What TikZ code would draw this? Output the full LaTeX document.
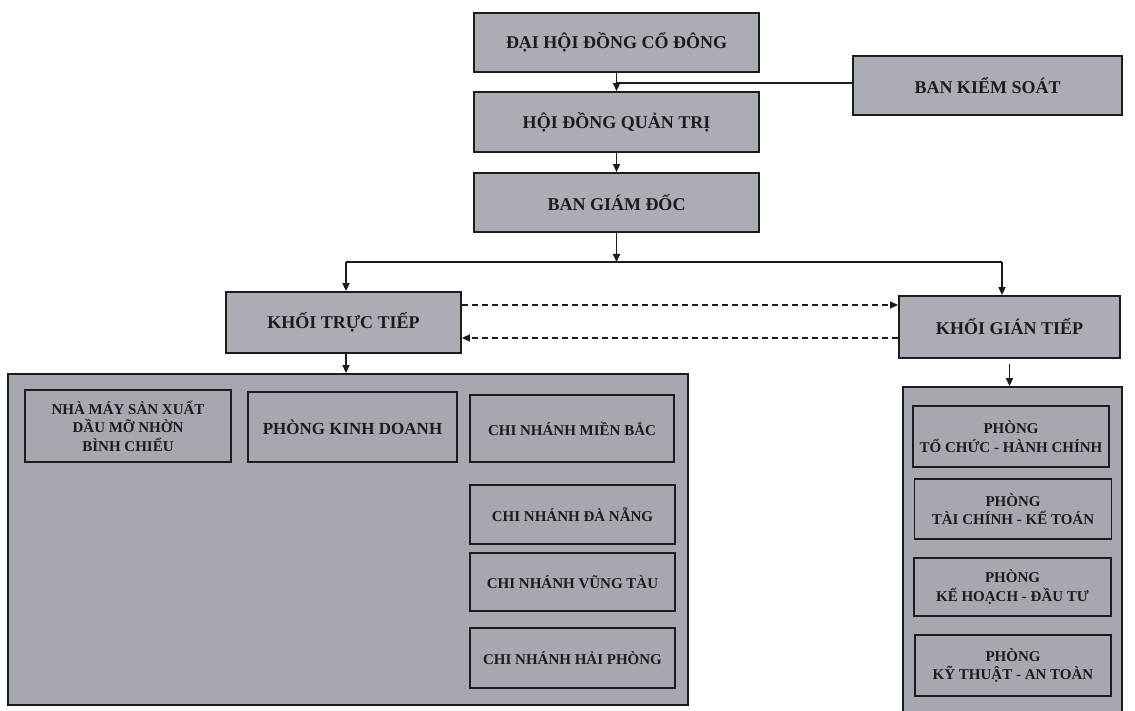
\documentclass[tikz,border=0pt]{standalone}
\usepackage{fontspec}
\setmainfont{Liberation Serif}
\usetikzlibrary{arrows.meta}
\definecolor{boxfill}{HTML}{ABADB5}
\definecolor{confill}{HTML}{A6A8B0}
\definecolor{ink}{HTML}{1C1C1E}
\tikzset{
  box/.style={draw=ink, line width=1.8pt, fill=boxfill, inner sep=0pt, align=center, text=ink},
  bigtxt/.style={font=\bfseries\fontsize{18}{21}\selectfont},
  subtxt/.style={font=\bfseries\fontsize{15}{18.5}\selectfont},
  pkdtxt/.style={font=\bfseries\fontsize{17}{20}\selectfont},
  cont/.style={draw=ink, line width=1.8pt, fill=confill, inner sep=0pt},
  conn/.style={draw=ink, line width=1.6pt},
  arr/.style={conn, -{Triangle[length=8pt,width=7pt]}},
  darr/.style={conn, dashed, dash pattern=on 6pt off 4pt, -{Triangle[length=8pt,width=7pt]}}
}
\begin{document}
\begin{tikzpicture}[x=1pt,y=-1pt]
\clip (0,0) rectangle (1135,711);
\fill[white] (0,0) rectangle (1135,711);
% top chain
\node[box,bigtxt,minimum width=285pt,minimum height=59pt] (dh) at (616.5,42.5) {ĐẠI HỘI ĐỒNG CỔ ĐÔNG};
\node[box,bigtxt,minimum width=285pt,minimum height=60pt] (hd) at (616.5,122) {HỘI ĐỒNG QUẢN TRỊ};
\node[box,bigtxt,minimum width=285pt,minimum height=59pt] (bgd) at (616.5,202.5) {BAN GIÁM ĐỐC};
\node[box,bigtxt,minimum width=269pt,minimum height=59pt] (bks) at (987.5,85.5) {BAN KIỂM SOÁT};
% blocks
\node[box,bigtxt,minimum width=235pt,minimum height=61pt] (ktt) at (343.5,322.5) {KHỐI TRỰC TIẾP};
\node[box,bigtxt,minimum width=221pt,minimum height=62pt] (kgt) at (1009.5,327) {KHỐI GIÁN TIẾP};
% containers
\node[cont,minimum width=680pt,minimum height=331pt] (lc) at (348,539.5) {};
\node[cont,minimum width=219pt,minimum height=326pt] (rc) at (1012.5,550) {};
% left sub boxes
\node[box,subtxt,fill=confill,minimum width=206pt,minimum height=72pt] (nm) at (128,426) {NHÀ MÁY SẢN XUẤT\\DẦU MỠ NHỜN\\BÌNH CHIỂU};
\node[box,pkdtxt,fill=confill,minimum width=209pt,minimum height=70pt] (pkd) at (352.5,427) {PHÒNG KINH DOANH};
\node[box,subtxt,fill=confill,minimum width=204pt,minimum height=67pt] (cnmb) at (572,428.5) {CHI NHÁNH MIỀN BẮC};
\node[box,subtxt,fill=confill,minimum width=205pt,minimum height=59pt] (cndn) at (572.5,514.5) {CHI NHÁNH ĐÀ NẴNG};
\node[box,subtxt,fill=confill,minimum width=205pt,minimum height=58pt] (cnvt) at (572.5,582) {CHI NHÁNH VŨNG TÀU};
\node[box,subtxt,fill=confill,minimum width=205pt,minimum height=60pt] (cnhp) at (572.5,658) {CHI NHÁNH HẢI PHÒNG};
% right sub boxes
\node[box,subtxt,fill=confill,minimum width=196pt,minimum height=61pt] (p1) at (1011,436.5) {PHÒNG\\TỔ CHỨC - HÀNH CHÍNH};
\node[box,subtxt,fill=confill,minimum width=197pt,minimum height=60pt] (p2) at (1013,509) {PHÒNG\\TÀI CHÍNH - KẾ TOÁN};
\node[box,subtxt,fill=confill,minimum width=197pt,minimum height=58pt] (p3) at (1012.5,587) {PHÒNG\\KẾ HOẠCH - ĐẦU TƯ};
\node[box,subtxt,fill=confill,minimum width=196pt,minimum height=61pt] (p4) at (1013,665.5) {PHÒNG\\KỸ THUẬT - AN TOÀN};
% connectors
\draw[arr] (dh.south) -- (hd.north);
\coordinate (j1) at (dh.south |- 0,83);
\draw[conn] (j1) -- (j1 -| bks.west);
\draw[arr] (hd.south) -- (bgd.north);
\coordinate (j2) at (bgd.south |- 0,262);
\draw[arr] (bgd.south) -- (j2);
\coordinate (jl) at (346,262);
\coordinate (jr) at (1002,262);
\draw[conn] (jl) -- (jr);
\draw[arr] (jl) -- (jl |- ktt.north);
\draw[arr] (jr) -- (jr |- kgt.north);
\draw[arr] (jl |- ktt.south) -- (jl |- lc.north);
\draw[arr,shorten <=5pt] (kgt.south) -- (kgt.south |- rc.north);
\draw[darr] (ktt.east |- 0,305) -- (kgt.west |- 0,305);
\draw[darr] (kgt.west |- 0,338) -- (ktt.east |- 0,338);
\end{tikzpicture}
\end{document}
